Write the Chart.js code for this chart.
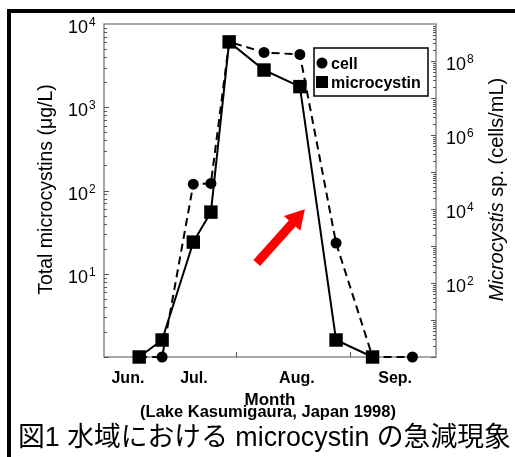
<!DOCTYPE html>
<html>
<head>
<meta charset="utf-8">
<script src="https://cdn.jsdelivr.net/npm/chart.js@4/dist/chart.umd.min.js"></script>
<style>
  html, body { margin: 0; padding: 0; background: #fff; }
  canvas { display: block; }
</style>
</head>
<body>
<canvas id="c" width="515" height="457"></canvas>
<script>
// ---- data (x = sampling day on a 0..100 season axis) ----
const sampleDay      = [10.6, 17.5, 26.9, 32.2, 37.7, 48.2, 59.0, 69.9, 80.9, 92.9];
const microcystin    = [1, 1.6, 24, 55, 6100, 2800, 1770, 1.6, 1];          // µg/L (left axis)
const cellCount      = [1, 1, 47000, 49000, 3.3e8, 1.7e8, 1.5e8, 1200, 1, 1]; // cells/mL (right axis)
const monthLabels    = ['Jun.', 'Jul.', 'Aug.', 'Sep.'];
const monthLabelDay  = [7.2, 27.1, 58.1, 87.7];
const monthTickDay   = [39.8, 74.1];
const leftExponents  = [1, 2, 3, 4];
const rightExponents = [2, 4, 6, 8];
const arrowFrom      = {x: 46.0, y: 13.5};
const arrowTo        = {x: 60.5, y: 59.4};

const FONT = "'Liberation Sans', Arial, sans-serif";

const mcPts = microcystin.map((v, i) => ({x: sampleDay[i], y: v}));
const cellPts = cellCount.map((v, i) => ({x: sampleDay[i], y: v}));

const decor = {
  id: 'decor',
  beforeDatasetsDraw(chart) {
    const {ctx, chartArea: a, scales} = chart;
    const yL = scales.y, yR = scales.y1, xs = scales.x;
    ctx.save();
    // outer frame
    ctx.fillStyle = '#000';
    ctx.fillRect(7, 9, 508, 4);
    ctx.fillRect(7, 9, 4, 448);
    // plot box
    ctx.strokeStyle = '#7a7a7a';
    ctx.lineWidth = 1.3;
    ctx.strokeRect(a.left, a.top, a.right - a.left, a.bottom - a.top);
    // inward minor/major ticks on log axes
    ctx.lineWidth = 1;
    ctx.strokeStyle = '#555';
    ctx.beginPath();
    for (let d = 0; d < 4; d++) {
      for (let k = 1; k <= 9; k++) {
        const v = k * Math.pow(10, d);
        const py = Math.round(yL.getPixelForValue(v)) + 0.5;
        const len = k === 1 ? 5 : 3;
        ctx.moveTo(a.left, py); ctx.lineTo(a.left + len, py);
      }
    }
    for (let d = 0; d < 9; d++) {
      for (let k = 1; k <= 9; k++) {
        const v = k * Math.pow(10, d);
        const py = Math.round(yR.getPixelForValue(v)) + 0.5;
        const len = k === 1 ? 5 : 3;
        ctx.moveTo(a.right, py); ctx.lineTo(a.right - len, py);
      }
    }
    monthTickDay.forEach(d => {
      const px = Math.round(xs.getPixelForValue(d)) + 0.5;
      ctx.moveTo(px, a.bottom); ctx.lineTo(px, a.bottom - 5);
    });
    ctx.stroke();

    // y tick labels with superscripts
    ctx.fillStyle = '#000';
    ctx.textBaseline = 'alphabetic';
    leftExponents.forEach(e => {
      const py = yL.getPixelForValue(Math.pow(10, e));
      ctx.font = `18px ${FONT}`;
      ctx.textAlign = 'right';
      ctx.fillText('10', a.left - 16, py + 9);
      ctx.font = `12px ${FONT}`;
      ctx.textAlign = 'left';
      ctx.fillText(String(e), a.left - 15, py + 2);
    });
    rightExponents.forEach(e => {
      const py = yR.getPixelForValue(Math.pow(10, e));
      ctx.font = `18px ${FONT}`;
      ctx.textAlign = 'left';
      ctx.fillText('10', a.right + 10, py + 9);
      ctx.font = `12px ${FONT}`;
      ctx.fillText(String(e), a.right + 31, py + 2);
    });

    // axis titles
    const midY = (a.top + a.bottom) / 2;
    ctx.save();
    ctx.translate(47, midY - 1);
    ctx.rotate(-Math.PI / 2);
    ctx.font = `19.5px ${FONT}`;
    ctx.textAlign = 'center';
    ctx.textBaseline = 'middle';
    ctx.fillText('Total microcystins (\u03bcg/L)', 0, 0);
    ctx.restore();

    ctx.save();
    ctx.translate(497, midY - 1);
    ctx.rotate(-Math.PI / 2);
    ctx.textBaseline = 'middle';
    const t1 = 'Microcystis', t2 = ' sp. (cells/mL)';
    ctx.font = `italic 20px ${FONT}`;
    const w1 = ctx.measureText(t1).width;
    ctx.font = `20px ${FONT}`;
    const w2 = ctx.measureText(t2).width;
    let sx = -(w1 + w2) / 2;
    ctx.textAlign = 'left';
    ctx.font = `italic 20px ${FONT}`;
    ctx.fillText(t1, sx, 0);
    ctx.font = `20px ${FONT}`;
    ctx.fillText(t2, sx + w1, 0);
    ctx.restore();

    // x axis title
    const cx = (a.left + a.right) / 2;
    ctx.textAlign = 'center';
    ctx.textBaseline = 'alphabetic';
    ctx.font = `bold 17px ${FONT}`;
    ctx.fillText('Month', cx, 405);
    ctx.font = `bold 16.5px ${FONT}`;
    ctx.fillText('(Lake Kasumigaura, Japan 1998)', cx - 2, 417);

    // caption
    ctx.textAlign = 'left';
    ctx.font = `26.8px 'Liberation Sans', 'Noto Sans CJK JP', sans-serif`;
    ctx.fillText('\u56f31 \u6c34\u57df\u306b\u304a\u3051\u308b microcystin \u306e\u6025\u6e1b\u73fe\u8c61', 18, 446);
    ctx.restore();
  },
  afterDraw(chart) {
    const {ctx, chartArea: a, scales} = chart;
    const xs = scales.x, yL = scales.y;
    ctx.save();
    // red arrow
    const x0 = xs.getPixelForValue(arrowFrom.x), y0 = yL.getPixelForValue(arrowFrom.y);
    const x1 = xs.getPixelForValue(arrowTo.x), y1 = yL.getPixelForValue(arrowTo.y);
    const ang = Math.atan2(y1 - y0, x1 - x0);
    const len = Math.hypot(x1 - x0, y1 - y0);
    ctx.translate(x0, y0);
    ctx.rotate(ang);
    ctx.fillStyle = '#ff0000';
    const hl = 19, hw = 11, sw = 4.5;
    ctx.beginPath();
    ctx.moveTo(0, -sw);
    ctx.lineTo(len - hl, -sw);
    ctx.lineTo(len - hl, -hw);
    ctx.lineTo(len, 0);
    ctx.lineTo(len - hl, hw);
    ctx.lineTo(len - hl, sw);
    ctx.lineTo(0, sw);
    ctx.closePath();
    ctx.fill();
    ctx.restore();

    // legend
    ctx.save();
    const lx = a.right - 122, ly = a.top + 24, lw = 114, lh = 48;
    ctx.fillStyle = '#fff';
    ctx.fillRect(lx, ly, lw, lh);
    ctx.strokeStyle = '#000';
    ctx.lineWidth = 1.5;
    ctx.strokeRect(lx, ly, lw, lh);
    ctx.fillStyle = '#000';
    ctx.beginPath();
    ctx.arc(lx + 8, ly + 15, 5.5, 0, Math.PI * 2);
    ctx.fill();
    ctx.fillRect(lx + 2, ly + 28, 12, 12);
    ctx.font = `bold 16px ${FONT}`;
    ctx.textAlign = 'left';
    ctx.textBaseline = 'alphabetic';
    ctx.fillText('cell', lx + 17, ly + 21);
    ctx.fillText('microcystin', lx + 17, ly + 40);
    ctx.restore();
  }
};

new Chart(document.getElementById('c'), {
  type: 'line',
  data: {
    datasets: [
      {
        label: 'microcystin',
        data: mcPts,
        yAxisID: 'y',
        borderColor: '#000',
        backgroundColor: '#000',
        borderWidth: 2,
        pointStyle: 'rect',
        pointRadius: 9.5,
        pointHoverRadius: 9.5,
        pointBorderWidth: 0,
        tension: 0,
        clip: false
      },
      {
        label: 'cell',
        data: cellPts,
        yAxisID: 'y1',
        borderColor: '#000',
        backgroundColor: '#000',
        borderWidth: 2,
        borderDash: [8, 5],
        pointStyle: 'circle',
        pointRadius: 5.5,
        pointHoverRadius: 5.5,
        pointBorderWidth: 0,
        tension: 0,
        clip: false
      }
    ]
  },
  options: {
    responsive: false,
    animation: false,
    devicePixelRatio: 1,
    layout: { padding: { left: 104, right: 79, top: 24, bottom: 30 } },
    plugins: { legend: { display: false }, tooltip: { enabled: false } },
    scales: {
      x: {
        type: 'linear',
        min: 0,
        max: 100,
        afterBuildTicks: s => { s.ticks = monthLabelDay.map(v => ({value: v})); },
        afterFit: s => { s.height = 70; },
        grid: { display: false, drawTicks: false },
        border: { display: false },
        ticks: {
          autoSkip: false,
          maxRotation: 0,
          padding: 12,
          color: '#000',
          font: { family: FONT, size: 16, weight: 'bold' },
          callback: (v) => monthLabels[monthLabelDay.indexOf(v)]
        }
      },
      y: {
        type: 'logarithmic',
        position: 'left',
        min: 1,
        max: 10000,
        display: false
      },
      y1: {
        type: 'logarithmic',
        position: 'right',
        min: 1,
        max: 1e9,
        display: false
      }
    }
  },
  plugins: [decor]
});
</script>
</body>
</html>
